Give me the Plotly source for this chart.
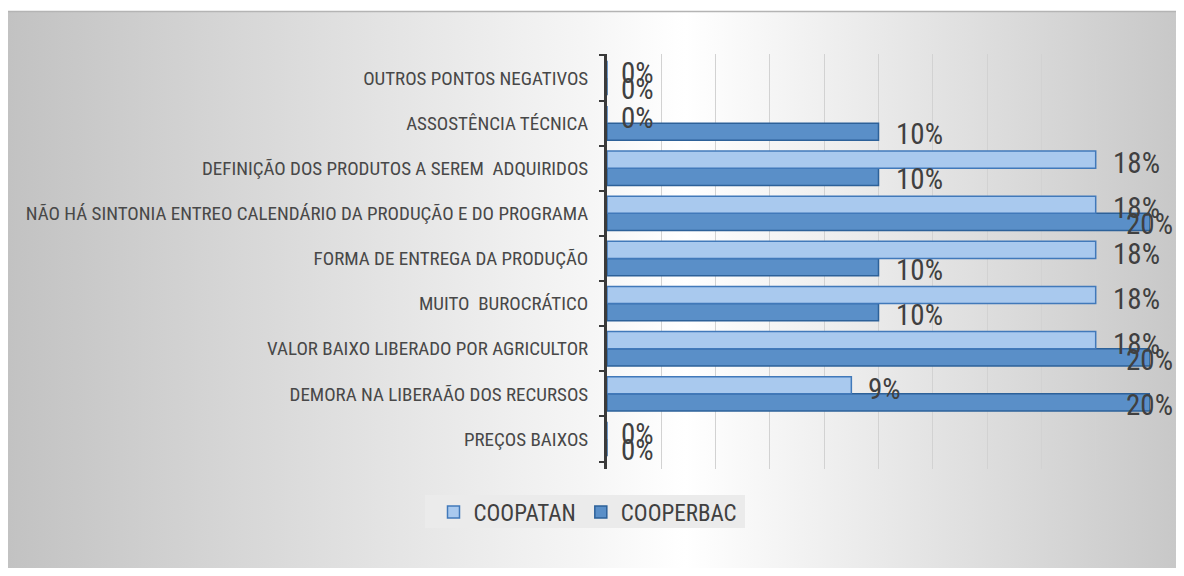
import base64
import plotly.graph_objects as go

# categories, bottom to top as drawn
categorias = [
    "PREÇOS BAIXOS",
    "DEMORA NA LIBERAÃO DOS RECURSOS",
    "VALOR BAIXO LIBERADO POR AGRICULTOR",
    "MUITO  BUROCRÁTICO",
    "FORMA DE ENTREGA DA PRODUÇÃO",
    "NÃO HÁ SINTONIA ENTREO CALENDÁRIO DA PRODUÇÃO E DO PROGRAMA",
    "DEFINIÇÃO DOS PRODUTOS A SEREM  ADQUIRIDOS",
    "ASSOSTÊNCIA TÉCNICA",
    "OUTROS PONTOS NEGATIVOS",
]
coopatan = [0.0, 0.09, 0.18, 0.18, 0.18, 0.18, 0.18, 0.0, 0.0]
cooperbac = [0.0, 0.20, 0.20, 0.10, 0.10, 0.20, 0.10, 0.10, 0.0]

# page has an 8px body margin, so the figure is 16px smaller than the window
W, H = 1168, 560
L, R, T, B = 599, 26, 46, 99
PW, PH = W - L - R, H - T - B
XMAX = 0.20
FONT = "Liberation Sans Narrow, Roboto Condensed, Arial Narrow, sans-serif"
TXT = "#404040"


def px_x(p):
    return (p - L) / PW


def px_y(p):
    return (H - B - p) / PH


# grey gradient background as an inline svg
svg = (
    '<svg xmlns="http://www.w3.org/2000/svg" width="1168" height="557" '
    'preserveAspectRatio="none"><defs><linearGradient id="g" x1="0" y1="0" '
    'x2="1" y2="0"><stop offset="0" stop-color="#c2c2c2"/>'
    '<stop offset="0.5" stop-color="#f6f6f6"/>'
    '<stop offset="0.58" stop-color="#ffffff"/>'
    '<stop offset="1" stop-color="#c8c8c8"/></linearGradient></defs>'
    '<rect width="100%" height="100%" fill="url(#g)"/></svg>'
)
bg_src = "data:image/svg+xml;base64," + base64.b64encode(svg.encode()).decode()

fig = go.Figure()
fig.add_trace(go.Bar(
    y=categorias, x=cooperbac, name="COOPERBAC", orientation="h",
    marker=dict(color="#5a8fc8", line=dict(color="#2d6199", width=1.5)),
    legendrank=2,
))
fig.add_trace(go.Bar(
    y=categorias, x=coopatan, name="COOPATAN", orientation="h",
    marker=dict(color="#a9c9ee", line=dict(color="#4179ba", width=1.5)),
    legendrank=1,
))

# data labels, pushed right of the bar end like the original
for vals, yshift in [(coopatan, 5), (cooperbac, -11)]:
    for cat, v in zip(categorias, vals):
        if v == 0:
            anchor, xs = "left", 12
        elif v >= XMAX:
            anchor, xs = "right", R - 1
        else:
            anchor, xs = "left", 15
        fig.add_annotation(
            x=v, y=cat, xref="x", yref="y", text=f"{v:.0%}",
            showarrow=False, xanchor=anchor, xshift=xs, yshift=yshift,
            font=dict(family=FONT, size=29, color=TXT),
        )

fig.add_layout_image(dict(
    source=bg_src, xref="paper", yref="paper",
    x=px_x(0), y=px_y(3), sizex=px_x(W) - px_x(0), sizey=px_y(3) - px_y(H),
    sizing="stretch", layer="below", xanchor="left", yanchor="top",
))
fig.add_shape(type="line", xref="paper", yref="paper", layer="below",
              x0=px_x(0), x1=px_x(W), y0=px_y(3.5), y1=px_y(3.5),
              line=dict(color="#b4b4b4", width=1.5))
# legend panel
fig.add_shape(type="rect", xref="paper", yref="paper", layer="below",
              x0=px_x(417), x1=px_x(737), y0=px_y(487), y1=px_y(520),
              fillcolor="#ebebeb", line=dict(width=0))

fig.update_layout(
    width=W, height=H,
    margin=dict(l=L, r=R, t=T, b=B),
    paper_bgcolor="white",
    plot_bgcolor="rgba(0,0,0,0)",
    barmode="group",
    bargap=0.24,
    bargroupgap=0.0,
    showlegend=True,
    legend=dict(
        orientation="h", xref="container", yref="container",
        x=580 / W, y=1 - 504 / H, xanchor="center", yanchor="middle",
        bgcolor="rgba(0,0,0,0)", font=dict(family=FONT, size=23, color=TXT),
        itemwidth=30,
    ),
    xaxis=dict(
        range=[0, XMAX], dtick=0.02, showticklabels=False,
        showgrid=True, gridcolor="#d2d2d2", gridwidth=1, zeroline=False,
        fixedrange=True,
    ),
    yaxis=dict(
        showline=True, linecolor="#3a3a3a", linewidth=3,
        ticks="outside", tickson="boundaries", ticklen=5, tickcolor="#3a3a3a",
        tickwidth=2, tickfont=dict(family=FONT, size=19, color="#484848"),
        ticklabelstandoff=12, showgrid=False, fixedrange=True,
    ),
)

fig.write_html("out.html")
